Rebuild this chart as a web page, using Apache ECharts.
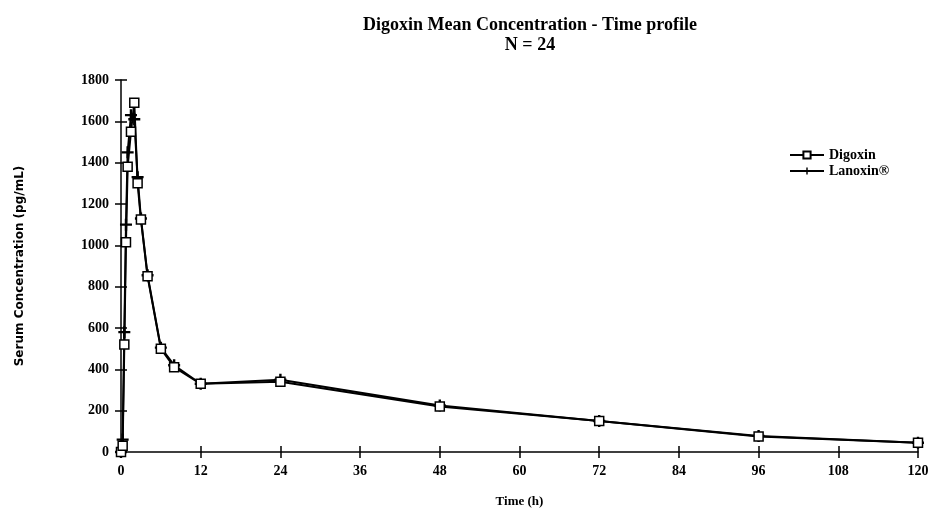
<!DOCTYPE html>
<html>
<head>
<meta charset="utf-8">
<script src="https://cdn.jsdelivr.net/npm/echarts@6/dist/echarts.min.js"></script>
<style>
  html, body { margin: 0; padding: 0; background: #fff; }
  #chart { width: 933px; height: 519px; }
</style>
</head>
<body>
<div id="chart"></div>
<script>
// sampling times (h)
var times = [0, 0.25, 0.5, 0.75, 1, 1.5, 2, 2.5, 3, 4, 6, 8, 12, 24, 48, 72, 96, 120];
// mean serum concentration (pg/mL)
var digoxin = [0, 30, 520, 1015, 1380, 1550, 1690, 1300, 1125, 850, 500, 410, 330, 340, 220, 150, 75, 45];
var lanoxin = [0, 60, 580, 1100, 1450, 1630, 1610, 1330, 1130, 855, 505, 420, 330, 350, 225, 150, 78, 45];

var font = "Liberation Serif";
var plusPath = "path://M4,0H6V4H10V6H6V10H4V6H0V4H4Z";

function pairs(ys) {
  return times.map(function (t, i) { return [t, ys[i]]; });
}

var chart = echarts.init(document.getElementById("chart"));
var option = {
  animation: false,
  textStyle: { fontFamily: font, color: "#000" },
  title: {
    text: "Digoxin Mean Concentration - Time profile\nN = 24",
    left: 525,
    top: 10,
    textAlign: "center",
    textStyle: { fontFamily: font, fontSize: 18, fontWeight: "bold", color: "#000", lineHeight: 20 }
  },
  legend: {
    orient: "vertical",
    left: 784,
    top: 143,
    itemWidth: 34,
    itemHeight: 9,
    itemGap: 2,
    textStyle: { fontFamily: font, fontSize: 14, fontWeight: "bold", color: "#000" },
    data: ["Digoxin", "Lanoxin®"]
  },
  grid: { left: 121, right: 15, top: 80, bottom: 67 },
  xAxis: [{
    type: "value",
    min: 0, max: 120, interval: 12,
    name: "Time (h)",
    nameLocation: "middle",
    nameGap: 43,
    nameTextStyle: { fontFamily: font, fontSize: 13, fontWeight: "bold", color: "#000" },
    axisLine: { lineStyle: { color: "#000", width: 1.5 } },
    axisTick: { length: 6, lineStyle: { color: "#000", width: 1.5 } },
    axisLabel: { fontFamily: font, fontSize: 14, fontWeight: "bold", color: "#000", margin: 12 },
    splitLine: { show: false }
  }, {
    type: "value", position: "bottom",
    min: 0, max: 120, interval: 12,
    axisLine: { show: false },
    axisTick: { inside: true, length: 6, lineStyle: { color: "#000", width: 1.5 } },
    axisLabel: { show: false },
    splitLine: { show: false }
  }],
  yAxis: [{
    type: "value",
    min: 0, max: 1800, interval: 200,
    name: "Serum Concentration (pg/mL)",
    nameLocation: "middle",
    nameGap: 95,
    nameTextStyle: { fontFamily: "DejaVu Sans", fontSize: 12, fontWeight: "bold", color: "#000" },
    axisLine: { show: true, lineStyle: { color: "#000", width: 1.5 } },
    axisTick: { show: true, length: 6, lineStyle: { color: "#000", width: 1.5 } },
    axisLabel: { fontFamily: font, fontSize: 14, fontWeight: "bold", color: "#000", margin: 12,
      formatter: function (v) { return String(v); } },
    splitLine: { show: false }
  }, {
    type: "value", position: "left",
    min: 0, max: 1800, interval: 200,
    axisLine: { show: false },
    axisTick: { show: true, inside: true, length: 6, lineStyle: { color: "#000", width: 1.5 } },
    axisLabel: { show: false },
    splitLine: { show: false }
  }],
  series: [{
    name: "Lanoxin®",
    type: "line",
    data: pairs(lanoxin),
    symbol: plusPath,
    symbolSize: 12,
    itemStyle: { color: "#000" },
    lineStyle: { color: "#000", width: 2 }
  }, {
    name: "Digoxin",
    type: "line",
    data: pairs(digoxin),
    symbol: "rect",
    symbolSize: 9,
    itemStyle: { color: "#fff", borderColor: "#000", borderWidth: 1.5 },
    lineStyle: { color: "#000", width: 2 }
  }]
};
chart.setOption(option);
</script>
</body>
</html>
